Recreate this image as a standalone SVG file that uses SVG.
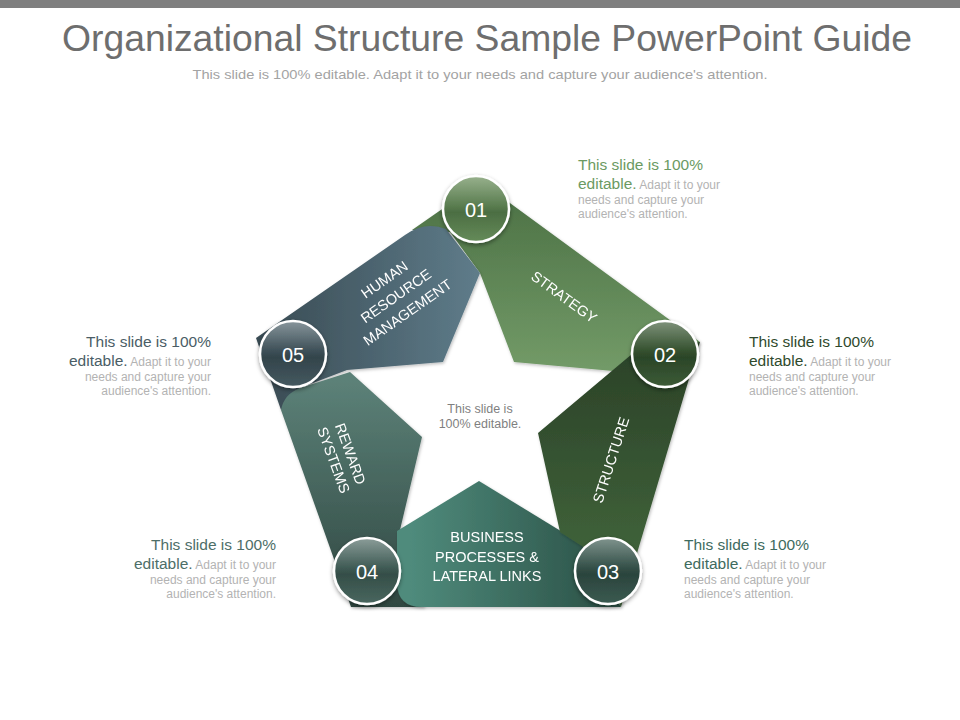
<svg xmlns="http://www.w3.org/2000/svg" width="960" height="720" viewBox="0 0 960 720">
<defs>
<style>
.t{font-family:"Liberation Sans",Arial,sans-serif}
.lbl{font-family:"Liberation Sans",Arial,sans-serif;font-size:14.5px;fill:#ffffff;text-anchor:middle}
.num{font-family:"Liberation Sans",Arial,sans-serif;font-size:20px;fill:#ffffff;text-anchor:middle}
.big{font-size:15.5px}
.sm{font-size:12px;fill:#b3b3b3}
.ring{stroke:#ffffff;stroke-width:2.5}
</style>
<filter id="sh" x="-20%" y="-20%" width="140%" height="140%">
<feDropShadow dx="0" dy="2" stdDeviation="2" flood-color="#000" flood-opacity="0.4"/>
</filter>
<filter id="ssh" x="-10%" y="-10%" width="120%" height="120%">
<feDropShadow dx="1" dy="1.5" stdDeviation="1.5" flood-color="#000" flood-opacity="0.25"/>
</filter>
<linearGradient id="gStr" x1="0" y1="182" x2="0" y2="372" gradientUnits="userSpaceOnUse">
<stop offset="0" stop-color="#4a6f43"/><stop offset="1" stop-color="#739b68"/>
</linearGradient>
<linearGradient id="gStc" x1="0" y1="350" x2="0" y2="560" gradientUnits="userSpaceOnUse">
<stop offset="0" stop-color="#2b4228"/><stop offset="1" stop-color="#40633a"/>
</linearGradient>
<linearGradient id="gBus" x1="410" y1="0" x2="600" y2="0" gradientUnits="userSpaceOnUse">
<stop offset="0" stop-color="#4f8b7c"/><stop offset="1" stop-color="#2d5449"/>
</linearGradient>
<linearGradient id="gRew" x1="0" y1="380" x2="0" y2="607" gradientUnits="userSpaceOnUse">
<stop offset="0" stop-color="#5c8178"/><stop offset="1" stop-color="#2f4741"/>
</linearGradient>
<linearGradient id="gHrm" x1="260" y1="0" x2="475" y2="0" gradientUnits="userSpaceOnUse">
<stop offset="0" stop-color="#394b53"/><stop offset="1" stop-color="#5e7b89"/>
</linearGradient>
<linearGradient id="c1" x1="0" y1="0" x2="0" y2="1">
<stop offset="0" stop-color="#98b18d"/><stop offset="0.45" stop-color="#5a7d50"/><stop offset="0.55" stop-color="#4c6e43"/><stop offset="1" stop-color="#658b59"/>
</linearGradient>
<linearGradient id="c2" x1="0" y1="0" x2="0" y2="1">
<stop offset="0" stop-color="#7f937c"/><stop offset="0.45" stop-color="#35512f"/><stop offset="0.55" stop-color="#2b4528"/><stop offset="1" stop-color="#3c5b36"/>
</linearGradient>
<linearGradient id="c3" x1="0" y1="0" x2="0" y2="1">
<stop offset="0" stop-color="#80948e"/><stop offset="0.45" stop-color="#345048"/><stop offset="0.55" stop-color="#2b443d"/><stop offset="1" stop-color="#3b5b51"/>
</linearGradient>
<linearGradient id="c4" x1="0" y1="0" x2="0" y2="1">
<stop offset="0" stop-color="#8b9d99"/><stop offset="0.45" stop-color="#405b55"/><stop offset="0.55" stop-color="#354e48"/><stop offset="1" stop-color="#49675f"/>
</linearGradient>
<linearGradient id="c5" x1="0" y1="0" x2="0" y2="1">
<stop offset="0" stop-color="#88969c"/><stop offset="0.45" stop-color="#3e5058"/><stop offset="0.55" stop-color="#33444b"/><stop offset="1" stop-color="#455960"/>
</linearGradient>
</defs>
<rect x="0" y="0" width="960" height="720" fill="#ffffff"/>
<rect x="0" y="0" width="960" height="8" fill="#7f7f7f"/>

<g id="title">
<text class="t" x="487" y="51" font-size="37" fill="#6e6e6e" text-anchor="middle" textLength="850" lengthAdjust="spacingAndGlyphs">Organizational Structure Sample PowerPoint Guide</text>
<text class="t" x="480" y="79" font-size="13" fill="#a3a3a3" text-anchor="middle" textLength="575" lengthAdjust="spacingAndGlyphs">This slide is 100% editable. Adapt it to your needs and capture your audience's attention.</text>
</g>

<g id="segments">
<g id="seg-strategy" filter="url(#ssh)">
<path d="M412,230 L481,182 L700,342 L650,385 L613,371 L514,362 L480,273 L450,232 Z" fill="url(#gStr)"/>
<text class="lbl" transform="translate(564,297) rotate(36)" y="5">STRATEGY</text>
</g>
<g id="seg-hrm" filter="url(#ssh)">
<path d="M256,338 L405,235 Q425,221 446,229 L480,273 L443,362 L347,370 L300,388 L281,410 Z" fill="url(#gHrm)"/>
<g transform="translate(396,296) rotate(-35)">
<text class="lbl" y="-15">HUMAN</text>
<text class="lbl" y="5">RESOURCE</text>
<text class="lbl" y="25">MANAGEMENT</text>
</g>
</g>
<g id="seg-reward" filter="url(#ssh)">
<path d="M350,372 L422,437 L400,530 L402,570 L425,607 L351,607 L281,410 Q284,394 300,388 Z" fill="url(#gRew)"/>
<g transform="translate(342,457) rotate(70)">
<text class="lbl" y="-4">REWARD</text>
<text class="lbl" y="14">SYSTEMS</text>
</g>
</g>
<g id="seg-business" filter="url(#ssh)">
<path d="M479,481 L582,544 L621,607 L422,607 Q398,607 397,584 L397,531 Z" fill="url(#gBus)"/>
<text class="lbl" x="487" y="542" font-size="16">BUSINESS</text>
<text class="lbl" x="487" y="562" font-size="16">PROCESSES &amp;</text>
<text class="lbl" x="487" y="581" font-size="16">LATERAL LINKS</text>
</g>
<g id="seg-structure" filter="url(#ssh)">
<path d="M538,433 L632,354 L700,342 L621,607 L585,548 L560,532 Z" fill="url(#gStc)"/>
<text class="lbl" transform="translate(611,460) rotate(-72)" y="5">STRUCTURE</text>
</g>
</g>

<g id="center-text">
<text class="t" x="480" y="413" font-size="12.5" fill="#7f7f7f" text-anchor="middle">This slide is</text>
<text class="t" x="480" y="428" font-size="12.5" fill="#7f7f7f" text-anchor="middle">100% editable.</text>
</g>

<g id="node-01">
<circle cx="476" cy="209" r="33" fill="url(#c1)" class="ring" filter="url(#sh)"/>
<text class="num" x="476" y="217">01</text>
</g>
<g id="node-02">
<circle cx="665" cy="354" r="33" fill="url(#c2)" class="ring" filter="url(#sh)"/>
<text class="num" x="665" y="362">02</text>
</g>
<g id="node-03">
<circle cx="608" cy="571" r="33" fill="url(#c3)" class="ring" filter="url(#sh)"/>
<text class="num" x="608" y="579">03</text>
</g>
<g id="node-04">
<circle cx="367" cy="571" r="33" fill="url(#c4)" class="ring" filter="url(#sh)"/>
<text class="num" x="367" y="579">04</text>
</g>
<g id="node-05">
<circle cx="293" cy="354" r="33" fill="url(#c5)" class="ring" filter="url(#sh)"/>
<text class="num" x="293" y="362">05</text>
</g>

<g id="desc-01" class="t">
<text x="578" y="170" class="big" fill="#6b9a62">This slide is 100%</text>
<text x="578" y="189"><tspan class="big" fill="#6b9a62">editable.</tspan><tspan class="sm"> Adapt it to your</tspan></text>
<text x="578" y="204" class="sm">needs and capture your</text>
<text x="578" y="218" class="sm">audience's attention.</text>
</g>
<g id="desc-02" class="t">
<text x="749" y="347" class="big" fill="#2f4a2d">This slide is 100%</text>
<text x="749" y="366"><tspan class="big" fill="#2f4a2d">editable.</tspan><tspan class="sm"> Adapt it to your</tspan></text>
<text x="749" y="381" class="sm">needs and capture your</text>
<text x="749" y="395" class="sm">audience's attention.</text>
</g>
<g id="desc-03" class="t">
<text x="684" y="550" class="big" fill="#3e6b5e">This slide is 100%</text>
<text x="684" y="569"><tspan class="big" fill="#3e6b5e">editable.</tspan><tspan class="sm"> Adapt it to your</tspan></text>
<text x="684" y="584" class="sm">needs and capture your</text>
<text x="684" y="598" class="sm">audience's attention.</text>
</g>
<g id="desc-04" class="t" text-anchor="end">
<text x="276" y="550" class="big" fill="#4d6e68">This slide is 100%</text>
<text x="276" y="569"><tspan class="big" fill="#4d6e68">editable.</tspan><tspan class="sm"> Adapt it to your</tspan></text>
<text x="276" y="584" class="sm">needs and capture your</text>
<text x="276" y="598" class="sm">audience's attention.</text>
</g>
<g id="desc-05" class="t" text-anchor="end">
<text x="211" y="347" class="big" fill="#4a5d66">This slide is 100%</text>
<text x="211" y="366"><tspan class="big" fill="#4a5d66">editable.</tspan><tspan class="sm"> Adapt it to your</tspan></text>
<text x="211" y="381" class="sm">needs and capture your</text>
<text x="211" y="395" class="sm">audience's attention.</text>
</g>
</svg>
